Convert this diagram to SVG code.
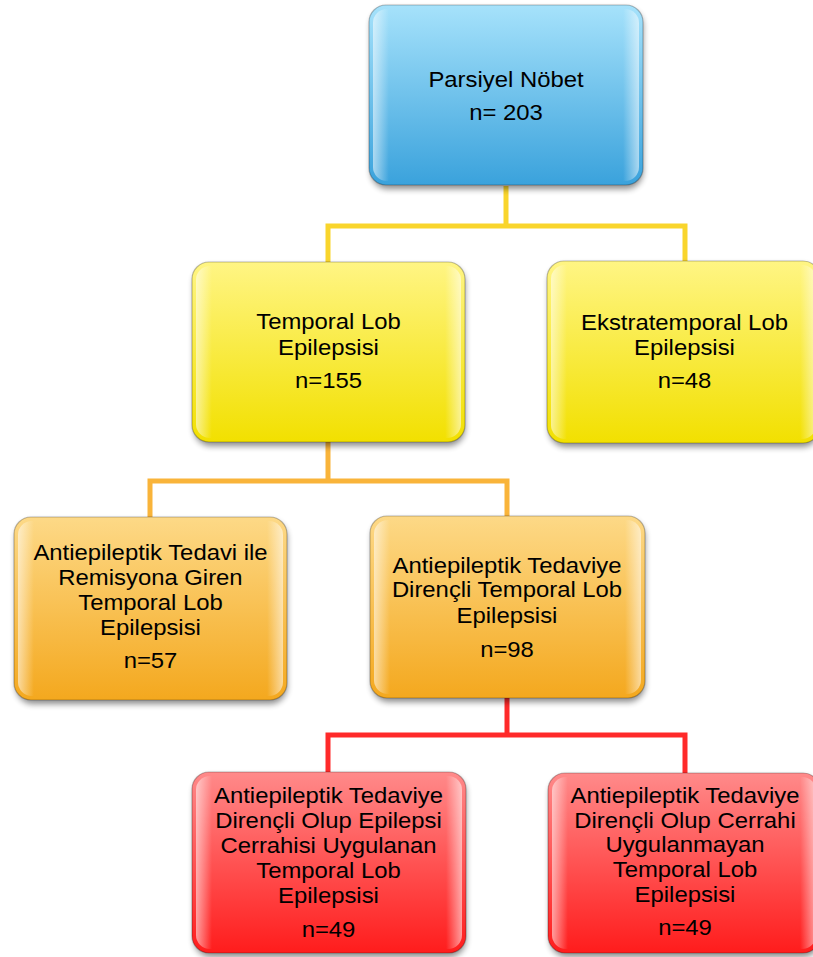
<svg xmlns="http://www.w3.org/2000/svg" width="813" height="957" viewBox="0 0 813 957">
<defs>
<linearGradient id="gBlue" x1="0" y1="0" x2="0" y2="1"><stop offset="0" stop-color="#a6e2fb"/><stop offset="1" stop-color="#3aa2dc"/></linearGradient>
<linearGradient id="gYel" x1="0" y1="0" x2="0" y2="1"><stop offset="0" stop-color="#fff584"/><stop offset="1" stop-color="#f2e000"/></linearGradient>
<linearGradient id="gOra" x1="0" y1="0" x2="0" y2="1"><stop offset="0" stop-color="#fdd987"/><stop offset="1" stop-color="#f4a81e"/></linearGradient>
<linearGradient id="gRed" x1="0" y1="0" x2="0" y2="1"><stop offset="0" stop-color="#ff8a8a"/><stop offset="1" stop-color="#ff1c1c"/></linearGradient>
<linearGradient id="gEdge" x1="0" y1="0" x2="1" y2="0"><stop offset="0" stop-color="#fff" stop-opacity="0.55"/><stop offset="0.06" stop-color="#fff" stop-opacity="0"/><stop offset="0.94" stop-color="#fff" stop-opacity="0"/><stop offset="1" stop-color="#fff" stop-opacity="0.55"/></linearGradient>
<filter id="sh" x="-10%" y="-10%" width="120%" height="125%"><feGaussianBlur stdDeviation="3"/></filter>
</defs>
<style>
.lbl{font-family:"Liberation Sans",Arial,sans-serif;font-size:22px;fill:#000;text-anchor:middle}
.shadow{fill:#000;opacity:0.45;filter:url(#sh)}
.edge{fill:url(#gEdge)}
.bord{fill:none;stroke:#000;stroke-opacity:0.25;stroke-width:1.2}
.conn{fill:none;stroke-width:5;stroke-linejoin:miter}
</style>
<g id="connectors">
<path class="conn" stroke="#f9d52c" d="M506 186 V226 H328 V262 M506 226 H685 V262"/>
<path class="conn" stroke="#f9b43a" d="M328 442 V481 H150 V517 M328 481 H507 V516"/>
<path class="conn" stroke="#ff2a2a" d="M507 698 V735 H328 V772 M507 735 H685 V773"/>
</g>
<g id="n1">
<rect class="shadow" x="371" y="9" width="272" height="180" rx="17"/>
<rect x="369" y="5" width="274" height="180" rx="17" fill="url(#gBlue)"/>
<rect class="edge" x="373" y="9" width="266" height="172" rx="14"/>
<rect class="bord" x="369" y="5" width="274" height="180" rx="17"/>
<text class="lbl" transform="translate(506 0) scale(1.085 1)"><tspan x="0" y="87">Parsiyel Nöbet</tspan><tspan x="0" y="120">n= 203</tspan></text>
</g>
<g id="n2">
<rect class="shadow" x="194" y="266" width="271" height="180" rx="17"/>
<rect x="192" y="262" width="273" height="180" rx="17" fill="url(#gYel)"/>
<rect class="edge" x="196" y="266" width="265" height="172" rx="14"/>
<rect class="bord" x="192" y="262" width="273" height="180" rx="17"/>
<text class="lbl" transform="translate(328.5 0) scale(1.085 1)"><tspan x="0" y="329">Temporal Lob</tspan><tspan x="0" y="355">Epilepsisi</tspan><tspan x="0" y="388">n=155</tspan></text>
</g>
<g id="n3">
<rect class="shadow" x="549" y="265" width="270" height="182" rx="17"/>
<rect x="547" y="261" width="273" height="182" rx="17" fill="url(#gYel)"/>
<rect class="edge" x="551" y="265" width="265" height="174" rx="14"/>
<rect class="bord" x="547" y="261" width="273" height="182" rx="17"/>
<text class="lbl" transform="translate(684.5 0) scale(1.085 1)"><tspan x="0" y="330">Ekstratemporal Lob</tspan><tspan x="0" y="355">Epilepsisi</tspan><tspan x="0" y="388">n=48</tspan></text>
</g>
<g id="n4">
<rect class="shadow" x="16" y="521" width="271" height="183" rx="17"/>
<rect x="14" y="517" width="273" height="183" rx="17" fill="url(#gOra)"/>
<rect class="edge" x="18" y="521" width="265" height="175" rx="14"/>
<rect class="bord" x="14" y="517" width="273" height="183" rx="17"/>
<text class="lbl" transform="translate(150.5 0) scale(1.085 1)"><tspan x="0" y="560">Antiepileptik Tedavi ile</tspan><tspan x="0" y="585">Remisyona Giren</tspan><tspan x="0" y="610">Temporal Lob</tspan><tspan x="0" y="635">Epilepsisi</tspan><tspan x="0" y="668">n=57</tspan></text>
</g>
<g id="n5">
<rect class="shadow" x="372" y="520" width="273" height="182" rx="17"/>
<rect x="370" y="516" width="275" height="182" rx="17" fill="url(#gOra)"/>
<rect class="edge" x="374" y="520" width="267" height="174" rx="14"/>
<rect class="bord" x="370" y="516" width="275" height="182" rx="17"/>
<text class="lbl" transform="translate(507 0) scale(1.085 1)"><tspan x="0" y="573">Antiepileptik Tedaviye</tspan><tspan x="0" y="597">Dirençli Temporal Lob</tspan><tspan x="0" y="623">Epilepsisi</tspan><tspan x="0" y="657">n=98</tspan></text>
</g>
<g id="n6">
<rect class="shadow" x="194" y="776" width="272" height="181" rx="17"/>
<rect x="192" y="772" width="274" height="181" rx="17" fill="url(#gRed)"/>
<rect class="edge" x="196" y="776" width="266" height="173" rx="14"/>
<rect class="bord" x="192" y="772" width="274" height="181" rx="17"/>
<text class="lbl" transform="translate(328.5 0) scale(1.085 1)"><tspan x="0" y="803">Antiepileptik Tedaviye</tspan><tspan x="0" y="828">Dirençli Olup Epilepsi</tspan><tspan x="0" y="853">Cerrahisi Uygulanan</tspan><tspan x="0" y="878">Temporal Lob</tspan><tspan x="0" y="903">Epilepsisi</tspan><tspan x="0" y="937">n=49</tspan></text>
</g>
<g id="n7">
<rect class="shadow" x="550" y="777" width="270" height="180" rx="17"/>
<rect x="548" y="773" width="272" height="180" rx="17" fill="url(#gRed)"/>
<rect class="edge" x="552" y="777" width="264" height="172" rx="14"/>
<rect class="bord" x="548" y="773" width="272" height="180" rx="17"/>
<text class="lbl" transform="translate(685 0) scale(1.085 1)"><tspan x="0" y="803">Antiepileptik Tedaviye</tspan><tspan x="0" y="828">Dirençli Olup Cerrahi</tspan><tspan x="0" y="852">Uygulanmayan</tspan><tspan x="0" y="877">Temporal Lob</tspan><tspan x="0" y="902">Epilepsisi</tspan><tspan x="0" y="935">n=49</tspan></text>
</g>
</svg>
